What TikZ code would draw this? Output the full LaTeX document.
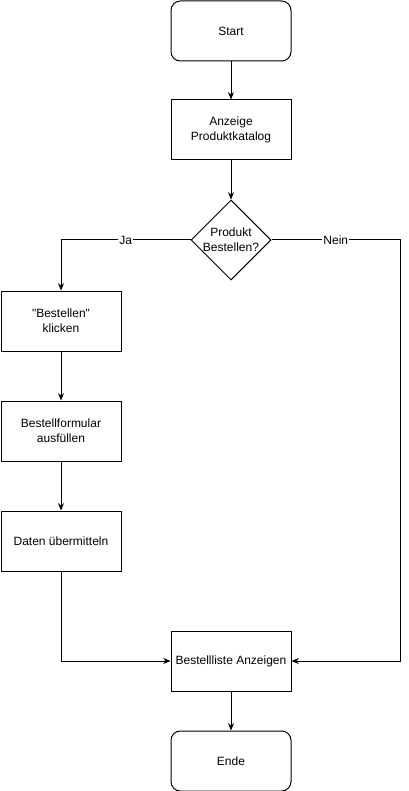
\documentclass[tikz,border=0pt]{standalone}
\usepackage{fontspec}
\setmainfont{Liberation Sans}[Ligatures=TeXOff]
\usetikzlibrary{shapes.geometric,arrows.meta}

\begin{document}
\begin{tikzpicture}[x=0.75pt,y=-0.75pt,line width=0.75pt,
    >={Stealth[length=5.5pt,width=4.5pt]},
    font=\fontsize{9}{11}\selectfont]
        \tikzstyle{box} = [rectangle, draw, minimum width=90pt, minimum height=45pt, align=center, inner sep=0pt]
        \tikzstyle{terminal} = [box, rounded corners=7pt]
        \tikzstyle{decision} = [diamond, draw, minimum width=60pt, minimum height=60pt, inner sep=0pt]
        \tikzstyle{plain} = [align=center, inner sep=0pt]
        \tikzstyle{lbl} = [fill=white, inner sep=1pt]
        \useasboundingbox (0,0) rectangle (409,791);
        \node[terminal] (start) at (231,31) {Start};
        \node[box] (katalog) at (231,130) {Anzeige\\Produktkatalog};
        \node[decision] (frage) at (231,240) {};
        \node[plain] (fragetext) at (frage) {Produkt\\Bestellen?};
        \node[box] (klicken) at (61,321) {"Bestellen"\\klicken};
        \node[box] (formular) at (61,431) {Bestellformular\\ausfüllen};
        \node[box] (senden) at (61,541) {Daten übermitteln};
        \node[box] (liste) at (231,661) {Bestellliste Anzeigen};
        \node[terminal] (ende) at (231,761) {Ende};
        \coordinate (rechts) at (400,240);
        \foreach \from/\to in {start/katalog, katalog/frage, klicken/formular, formular/senden, liste/ende}
            \draw[->] (\from) -- (\to);
        \draw[->] (frage.west) -| node[lbl, pos=0.25] {Ja} (klicken.north);
        \draw[->] (frage.east) -- node[lbl] {Nein} (rechts) |- (liste.east);
        \draw[->] (senden.south) |- (liste.west);
    \end{tikzpicture}
\end{document}
